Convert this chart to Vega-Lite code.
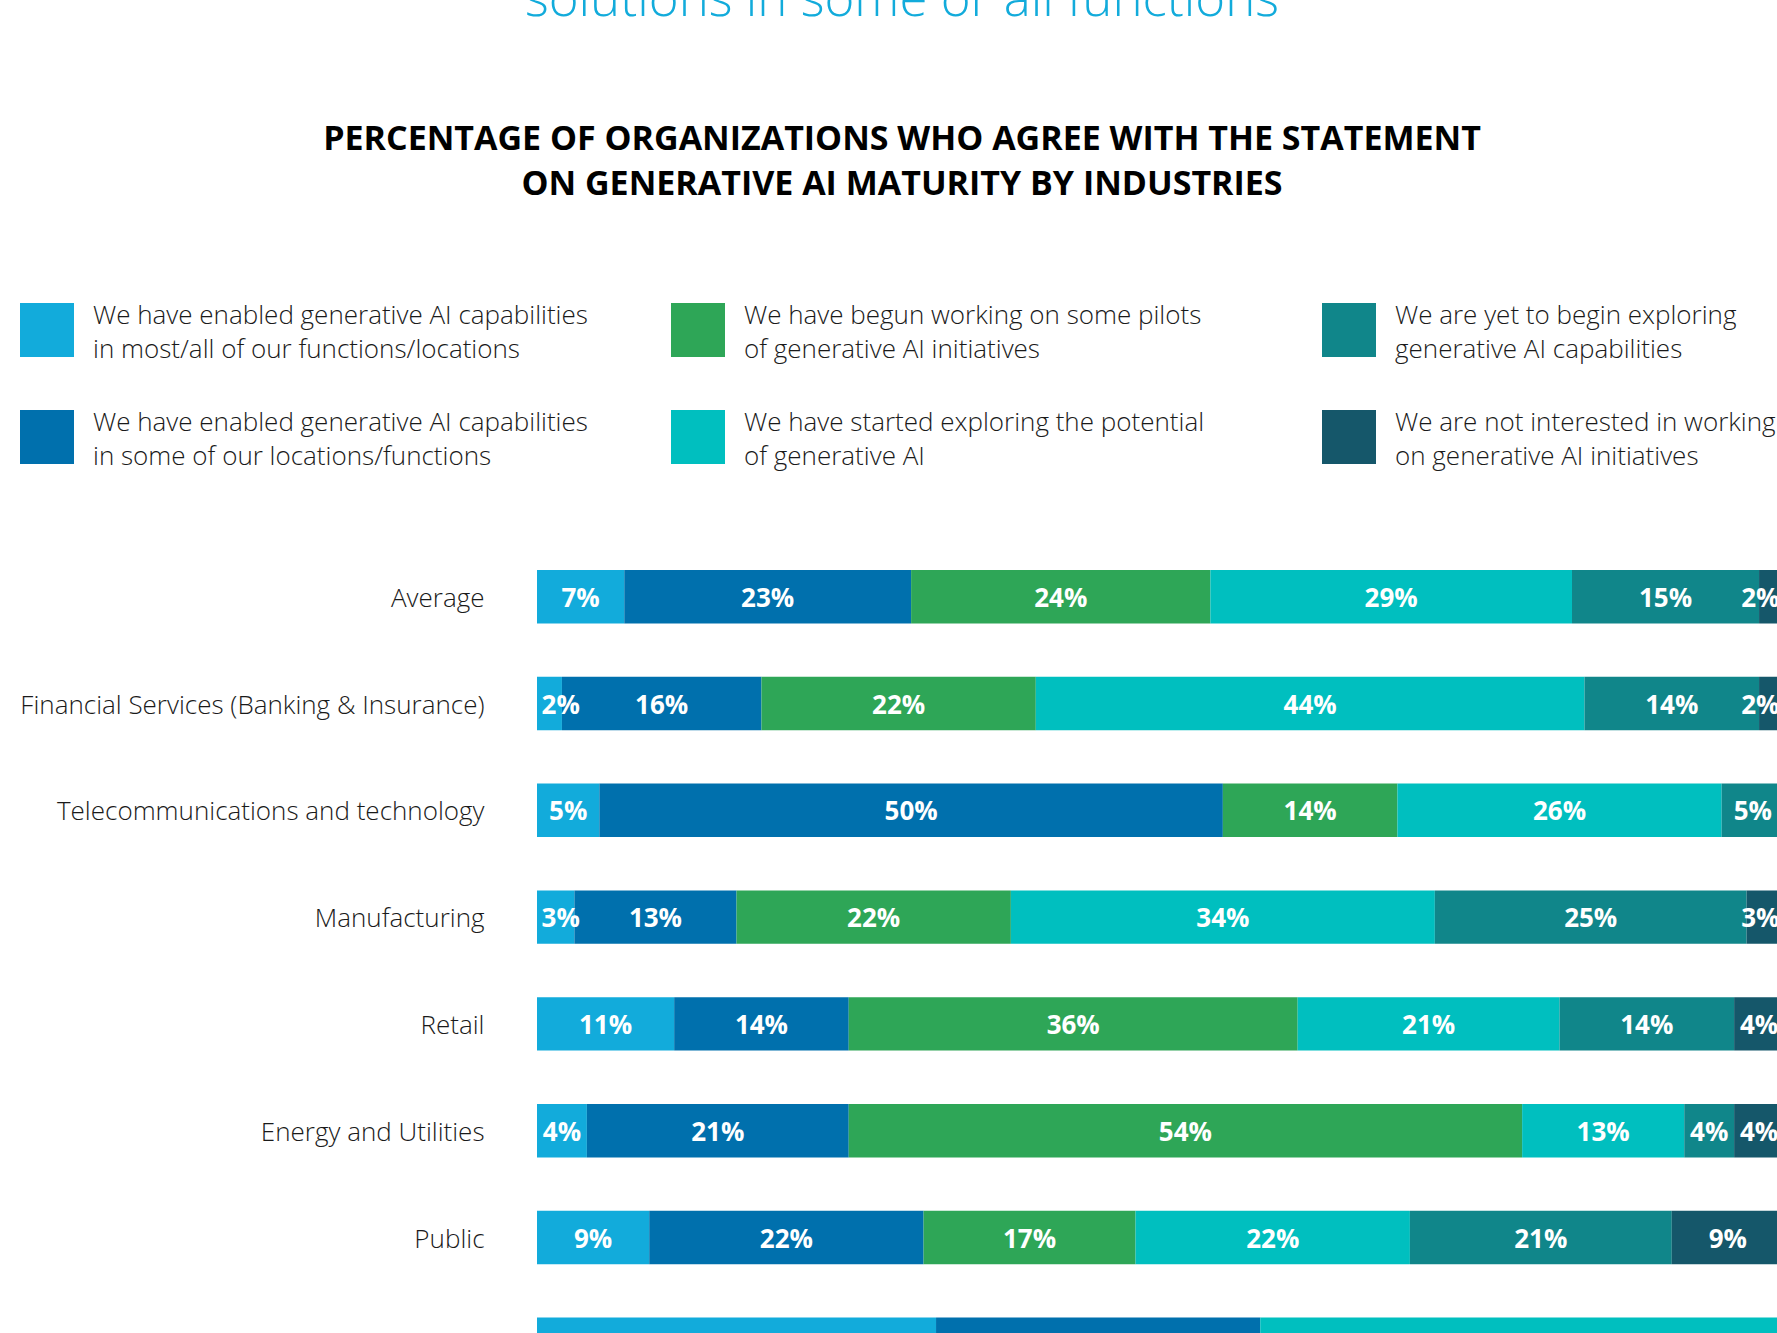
{
  "$schema": "https://vega.github.io/schema/vega-lite/v6.json",
  "autosize": "none",
  "padding": {"top": 570, "left": 537, "right": 0, "bottom": 0},
  "width": 1240,
  "height": 763,
  "background": "white",
  "title": {
    "text": "solutions in some or all functions",
    "subtitle": ["PERCENTAGE OF ORGANIZATIONS WHO AGREE WITH THE STATEMENT", "ON GENERATIVE AI MATURITY BY INDUSTRIES"],
    "anchor": "middle",
    "frame": "group",
    "dx": -255,
    "font": "Open Sans",
    "fontSize": 51,
    "fontWeight": 300,
    "color": "#12ABDB",
    "subtitleFont": "Open Sans",
    "subtitleFontSize": 34,
    "subtitleFontWeight": 700,
    "subtitleColor": "#000000",
    "subtitleLineHeight": 45,
    "subtitlePadding": 96,
    "offset": 100
  },
  "data": {
    "values": [
      {"cat": "Average", "k": 1, "resp": "We have enabled generative AI capabilities in most/all of our functions/locations", "v": 7},
      {"cat": "Average", "k": 2, "resp": "We have enabled generative AI capabilities in some of our locations/functions", "v": 23},
      {"cat": "Average", "k": 3, "resp": "We have begun working on some pilots of generative AI initiatives", "v": 24},
      {"cat": "Average", "k": 4, "resp": "We have started exploring the potential of generative AI", "v": 29},
      {"cat": "Average", "k": 5, "resp": "We are yet to begin exploring generative AI capabilities", "v": 15},
      {"cat": "Average", "k": 6, "resp": "We are not interested in working on generative AI initiatives", "v": 2},
      {"cat": "Financial Services (Banking & Insurance)", "k": 1, "resp": "We have enabled generative AI capabilities in most/all of our functions/locations", "v": 2},
      {"cat": "Financial Services (Banking & Insurance)", "k": 2, "resp": "We have enabled generative AI capabilities in some of our locations/functions", "v": 16},
      {"cat": "Financial Services (Banking & Insurance)", "k": 3, "resp": "We have begun working on some pilots of generative AI initiatives", "v": 22},
      {"cat": "Financial Services (Banking & Insurance)", "k": 4, "resp": "We have started exploring the potential of generative AI", "v": 44},
      {"cat": "Financial Services (Banking & Insurance)", "k": 5, "resp": "We are yet to begin exploring generative AI capabilities", "v": 14},
      {"cat": "Financial Services (Banking & Insurance)", "k": 6, "resp": "We are not interested in working on generative AI initiatives", "v": 2},
      {"cat": "Telecommunications and technology", "k": 1, "resp": "We have enabled generative AI capabilities in most/all of our functions/locations", "v": 5},
      {"cat": "Telecommunications and technology", "k": 2, "resp": "We have enabled generative AI capabilities in some of our locations/functions", "v": 50},
      {"cat": "Telecommunications and technology", "k": 3, "resp": "We have begun working on some pilots of generative AI initiatives", "v": 14},
      {"cat": "Telecommunications and technology", "k": 4, "resp": "We have started exploring the potential of generative AI", "v": 26},
      {"cat": "Telecommunications and technology", "k": 5, "resp": "We are yet to begin exploring generative AI capabilities", "v": 5},
      {"cat": "Telecommunications and technology", "k": 6, "resp": "We are not interested in working on generative AI initiatives", "v": 0},
      {"cat": "Manufacturing", "k": 1, "resp": "We have enabled generative AI capabilities in most/all of our functions/locations", "v": 3},
      {"cat": "Manufacturing", "k": 2, "resp": "We have enabled generative AI capabilities in some of our locations/functions", "v": 13},
      {"cat": "Manufacturing", "k": 3, "resp": "We have begun working on some pilots of generative AI initiatives", "v": 22},
      {"cat": "Manufacturing", "k": 4, "resp": "We have started exploring the potential of generative AI", "v": 34},
      {"cat": "Manufacturing", "k": 5, "resp": "We are yet to begin exploring generative AI capabilities", "v": 25},
      {"cat": "Manufacturing", "k": 6, "resp": "We are not interested in working on generative AI initiatives", "v": 3},
      {"cat": "Retail", "k": 1, "resp": "We have enabled generative AI capabilities in most/all of our functions/locations", "v": 11},
      {"cat": "Retail", "k": 2, "resp": "We have enabled generative AI capabilities in some of our locations/functions", "v": 14},
      {"cat": "Retail", "k": 3, "resp": "We have begun working on some pilots of generative AI initiatives", "v": 36},
      {"cat": "Retail", "k": 4, "resp": "We have started exploring the potential of generative AI", "v": 21},
      {"cat": "Retail", "k": 5, "resp": "We are yet to begin exploring generative AI capabilities", "v": 14},
      {"cat": "Retail", "k": 6, "resp": "We are not interested in working on generative AI initiatives", "v": 4},
      {"cat": "Energy and Utilities", "k": 1, "resp": "We have enabled generative AI capabilities in most/all of our functions/locations", "v": 4},
      {"cat": "Energy and Utilities", "k": 2, "resp": "We have enabled generative AI capabilities in some of our locations/functions", "v": 21},
      {"cat": "Energy and Utilities", "k": 3, "resp": "We have begun working on some pilots of generative AI initiatives", "v": 54},
      {"cat": "Energy and Utilities", "k": 4, "resp": "We have started exploring the potential of generative AI", "v": 13},
      {"cat": "Energy and Utilities", "k": 5, "resp": "We are yet to begin exploring generative AI capabilities", "v": 4},
      {"cat": "Energy and Utilities", "k": 6, "resp": "We are not interested in working on generative AI initiatives", "v": 4},
      {"cat": "Public", "k": 1, "resp": "We have enabled generative AI capabilities in most/all of our functions/locations", "v": 9},
      {"cat": "Public", "k": 2, "resp": "We have enabled generative AI capabilities in some of our locations/functions", "v": 22},
      {"cat": "Public", "k": 3, "resp": "We have begun working on some pilots of generative AI initiatives", "v": 17},
      {"cat": "Public", "k": 4, "resp": "We have started exploring the potential of generative AI", "v": 22},
      {"cat": "Public", "k": 5, "resp": "We are yet to begin exploring generative AI capabilities", "v": 21},
      {"cat": "Public", "k": 6, "resp": "We are not interested in working on generative AI initiatives", "v": 9},
      {"cat": "Consumer Products", "k": 1, "resp": "We have enabled generative AI capabilities in most/all of our functions/locations", "v": 32},
      {"cat": "Consumer Products", "k": 2, "resp": "We have enabled generative AI capabilities in some of our locations/functions", "v": 26},
      {"cat": "Consumer Products", "k": 4, "resp": "We have started exploring the potential of generative AI", "v": 42}
    ]
  },
  "transform": [
    {"stack": "v", "groupby": ["cat"], "sort": [{"field": "k", "order": "ascending"}], "as": ["v0", "v1"]},
    {"calculate": "clamp((datum.v0 + datum.v1) / 2, 1.9, 98.1)", "as": "mid"},
    {"calculate": "datum.v + '%'", "as": "lab"}
  ],
  "encoding": {
    "y": {
      "field": "cat",
      "type": "nominal",
      "sort": null,
      "scale": {"paddingInner": 0.5, "paddingOuter": 0, "range": [0, 801]},
      "axis": {
        "title": null,
        "ticks": false,
        "domain": false,
        "labelPadding": 53,
        "labelOffset": 2,
        "labelFont": "Open Sans",
        "labelFontSize": 26,
        "labelFontWeight": 300,
        "labelColor": "#1a1a1a",
        "labelLimit": 1000
      }
    }
  },
  "layer": [
    {
      "mark": {"type": "bar", "cornerRadius": 0},
      "encoding": {
        "x": {"field": "v0", "type": "quantitative", "scale": {"domain": [0, 100], "range": [0, 1247]}, "axis": null},
        "x2": {"field": "v1"},
        "color": {
          "field": "resp",
          "type": "nominal",
          "scale": {
            "domain": [
              "We have enabled generative AI capabilities in most/all of our functions/locations",
              "We have enabled generative AI capabilities in some of our locations/functions",
              "We have begun working on some pilots of generative AI initiatives",
              "We have started exploring the potential of generative AI",
              "We are yet to begin exploring generative AI capabilities",
              "We are not interested in working on generative AI initiatives"
            ],
            "range": ["#12ABDB", "#0070AD", "#2EA657", "#00BFBF", "#10868A", "#15576A"]
          },
          "legend": {
            "orient": "none",
            "legendX": -517,
            "legendY": -267,
            "direction": "horizontal",
            "columns": 3,
            "gridAlign": "all",
            "columnPadding": 83,
            "rowPadding": 47,
            "padding": 0,
            "title": null,
            "symbolType": "square",
            "symbolSize": 2916,
            "symbolStrokeWidth": 0,
            "symbolOpacity": 1,
            "labelOffset": 19,
            "labelFont": "Open Sans",
            "labelFontSize": 26,
            "labelFontWeight": 300,
            "labelColor": "#1a1a1a",
            "labelLimit": 1000,
            "labelBaseline": "middle",
            "values": [
              "We have enabled generative AI capabilities in most/all of our functions/locations",
              "We have begun working on some pilots of generative AI initiatives",
              "We are yet to begin exploring generative AI capabilities",
              "We have enabled generative AI capabilities in some of our locations/functions",
              "We have started exploring the potential of generative AI",
              "We are not interested in working on generative AI initiatives"
            ],
            "labelExpr": "split(replace(replace(replace(replace(datum.label, 'capabilities in ', 'capabilities|in '), ' of generative', '|of generative'), 'exploring generative', 'exploring|generative'), 'in working on ', 'in working|on '), '|')",
            "encoding": {"labels": {"lineHeight": {"value": 34}, "dy": {"value": -14}}}
          }
        }
      }
    },
    {
      "transform": [{"filter": "datum.v > 0"}],
      "mark": {"type": "text", "color": "white", "font": "Open Sans", "fontSize": 26, "fontWeight": 700, "align": "center", "baseline": "middle", "dy": 2},
      "encoding": {
        "x": {"field": "mid", "type": "quantitative", "scale": {"domain": [0, 100], "range": [0, 1247]}, "axis": null},
        "text": {"field": "lab"}
      }
    }
  ],
  "config": {"view": {"stroke": null}}
}
